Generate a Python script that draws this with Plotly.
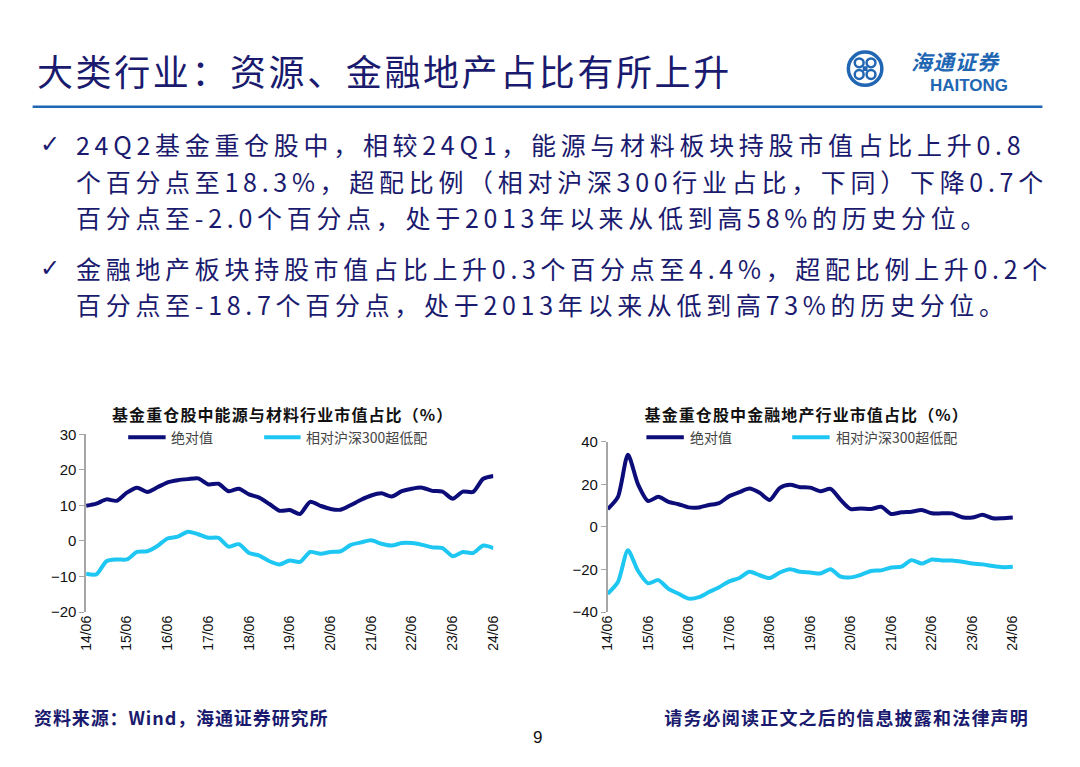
import json
import plotly.graph_objects as go

W, H = 1080, 767

# ---------------- data ----------------
quarters = [f"{y:02d}/{m:02d}" for y in range(14, 25) for m in (3, 6, 9, 12)][1:42]  # 14/06 .. 24/06
tick_labels = ["14/06", "15/06", "16/06", "17/06", "18/06", "19/06",
               "20/06", "21/06", "22/06", "23/06", "24/06"]

energy_abs = [9.9, 10.5, 11.7, 11.3, 13.6, 15.0, 13.8, 15.1, 16.5, 17.1,
              17.4, 17.6, 15.9, 16.1, 14.0, 14.7, 13.1, 12.2, 10.4, 8.5,
              8.7, 7.6, 11.0, 9.9, 9.0, 8.8, 10.1, 11.6, 12.8, 13.4,
              12.5, 14.0, 14.7, 15.0, 14.1, 13.9, 11.9, 13.9, 13.8, 17.5, 18.3]
energy_rel = [-9.2, -9.4, -5.7, -5.2, -5.2, -3.1, -2.9, -1.4, 0.7, 1.2,
              2.6, 1.9, 0.9, 0.9, -1.6, -0.9, -3.4, -4.1, -5.7, -6.6,
              -5.5, -5.9, -3.1, -3.6, -3.1, -2.9, -1.1, -0.4, 0.2, -0.8,
              -1.3, -0.6, -0.6, -1.1, -1.8, -2.0, -4.3, -3.1, -3.4, -1.3, -2.0]
fin_abs = [8.4, 14.0, 34.0, 20.0, 12.2, 14.2, 11.8, 10.7, 9.2, 9.2,
           10.3, 11.2, 14.5, 16.4, 18.1, 16.1, 12.7, 18.4, 19.8, 18.7,
           18.5, 16.8, 17.9, 12.7, 8.4, 8.7, 8.4, 9.5, 6.1, 6.9,
           7.2, 8.0, 6.4, 6.4, 6.4, 4.6, 4.4, 5.7, 4.1, 4.1, 4.4]
fin_rel = [-31.4, -26.0, -11.0, -20.7, -26.5, -25.0, -29.1, -31.4, -33.7, -33.0,
           -30.6, -28.3, -25.6, -24.0, -21.1, -22.7, -24.0, -21.4, -19.9, -21.1,
           -21.4, -21.9, -19.9, -23.4, -23.7, -22.5, -20.7, -20.4, -19.1, -18.7,
           -15.6, -17.2, -15.3, -15.8, -15.8, -16.4, -17.2, -17.6, -18.4, -18.9, -18.7]

series_names = ["绝对值", "相对沪深300超低配"]
chart_titles = ["基金重仓股中能源与材料行业市值占比（%）", "基金重仓股中金融地产行业市值占比（%）"]

# ---------------- styles ----------------
NAVY = "#0d0d7a"
CYAN = "#1ec6f2"
TXT = "#1a1a6e"
BLUE = "#2166b3"
AXC = "#a6a6a6"
CJK = "Noto Sans CJK SC"
ARIAL = "Liberation Sans, Arial"


def px(x):
    return x / W


def py(y):
    return 1 - y / H


x_idx = list(range(len(quarters)))
tick_idx = [quarters.index(t) for t in tick_labels]

panels = [
    dict(abs=energy_abs, rel=energy_rel, yr=[-20, 30], dt=10,
         xd=[px(79.3), px(492.7)], yd=[py(616.7), py(435)]),
    dict(abs=fin_abs, rel=fin_rel, yr=[-40, 40], dt=20,
         xd=[px(608.7), px(1020)], yd=[py(616.7), py(442.7)]),
]

fig = go.Figure()
layout = {}
for k, p in enumerate(panels):
    xa = "x" if k == 0 else "x2"
    ya = "y" if k == 0 else "y2"
    for vals, col in ((p["abs"], NAVY), (p["rel"], CYAN)):
        fig.add_trace(go.Scatter(x=x_idx, y=vals, xaxis=xa, yaxis=ya, mode="lines",
                                 line=dict(color=col, width=4, shape="spline", smoothing=0.7),
                                 showlegend=False, hoverinfo="skip"))
    xn = "xaxis" if k == 0 else "xaxis2"
    yn = "yaxis" if k == 0 else "yaxis2"
    layout[xn] = dict(domain=p["xd"], anchor=ya, range=[0, 40], tickmode="array",
                      tickvals=tick_idx, ticktext=tick_labels, tickangle=-90,
                      showline=False, ticks="", showgrid=False, zeroline=False,
                      tickfont=dict(family=ARIAL, size=14, color="#111111"))
    layout[yn] = dict(domain=p["yd"], anchor=xa, range=p["yr"], dtick=p["dt"],
                      showline=True, linecolor=AXC, linewidth=1.5, ticks="outside",
                      ticklen=5, tickcolor=AXC, showgrid=False, zeroline=False,
                      tickfont=dict(family=ARIAL, size=15, color="#111111"))
    # zero-line axis carrying the tick marks
    y0, y1 = p["yd"]
    lo, hi = p["yr"]
    zpos = y0 + (0 - lo) / (hi - lo) * (y1 - y0)
    zn = "xaxis3" if k == 0 else "xaxis4"
    layout[zn] = dict(overlaying=xa, anchor="free", position=zpos, range=[0, 40],
                      tickmode="array", tickvals=tick_idx, showticklabels=False,
                      showline=True, linecolor=AXC, linewidth=1.5, ticks="outside",
                      ticklen=5, tickcolor=AXC, showgrid=False, zeroline=False)

fig.update_layout(**layout)

shapes = []
ann = []
spacing = {}  # annotation index -> letter spacing (px)


def add_text(text, x, y, xanchor="left", size=14, color=TXT, family=CJK, ls=None):
    if ls:
        spacing[len(ann)] = ls
    ann.append(dict(text=text, x=px(x), y=py(y), xanchor=xanchor, yanchor="middle",
                    align=xanchor if xanchor != "center" else "center",
                    font=dict(family=family, size=size, color=color)))


# header
add_text("大类行业：资源、金融地产占比有所上升", 27, 62, size=36, ls=2.6)
shapes.append(dict(type="line", xref="paper", yref="paper", x0=px(25), x1=px(1050),
                   y0=py(100), y1=py(100), line=dict(color=BLUE, width=2.5)))

# logo
cx, cy, r = 870, 61, 17
shapes.append(dict(type="circle", xref="paper", yref="paper", x0=px(cx - r), x1=px(cx + r),
                   y0=py(cy + r), y1=py(cy - r), line=dict(color=BLUE, width=3.5)))
for dx, dy in ((-6, -6), (6, -6), (-6, 6), (6, 6)):
    rr = 4.5
    shapes.append(dict(type="circle", xref="paper", yref="paper", x0=px(cx + dx - rr),
                       x1=px(cx + dx + rr), y0=py(cy + dy + rr), y1=py(cy + dy - rr),
                       line=dict(color=BLUE, width=2.5)))
shapes.append(dict(type="rect", xref="paper", yref="paper", x0=px(cx - 2.5), x1=px(cx + 2.5),
                   y0=py(cy + 2.5), y1=py(cy - 2.5), fillcolor=BLUE, line=dict(width=0)))
add_text("<i><b>海通证券</b></i>", 962, 53, xanchor="center", size=21, color=BLUE, ls=1)
add_text("<b>HAITONG</b>", 975, 78, xanchor="center", size=17, color=BLUE, family=ARIAL)

# bullets
lines = [
    (138, True, "24Q2基金重仓股中，相较24Q1，能源与材料板块持股市值占比上升0.8"),
    (176, False, "个百分点至18.3%，超配比例（相对沪深300行业占比，下同）下降0.7个"),
    (213, False, "百分点至-2.0个百分点，处于2013年以来从低到高58%的历史分位。"),
    (265, True, "金融地产板块持股市值占比上升0.3个百分点至4.4%，超配比例上升0.2个"),
    (302, False, "百分点至-18.7个百分点，处于2013年以来从低到高73%的历史分位。"),
]
for yy, chk, t in lines:
    if chk:
        add_text("<b>✓</b>", 30, yy, size=24, family="DejaVu Sans")
    add_text(t, 67, yy, size=25, ls=4.7)

# chart titles and legends
title_cx = [279, 810]
leg = [((122, 160, 163), (260, 297, 300)), ((648, 686, 690), (796, 834, 838))]
for k in range(2):
    add_text("<b>" + chart_titles[k] + "</b>", title_cx[k], 414, xanchor="center",
             size=16, color="#111111", ls=1.1)
    for (x0, x1, xt), col, nm in zip(leg[k], (NAVY, CYAN), series_names):
        shapes.append(dict(type="line", xref="paper", yref="paper", x0=px(x0), x1=px(x1),
                           y0=py(438), y1=py(438), line=dict(color=col, width=4)))
        add_text(nm, xt, 438, size=14, color="#444444")

# footer
add_text("<b>资料来源：Wind，海通证券研究所</b>", 24, 724, size=18, ls=0.9)
add_text("<b>请务必阅读正文之后的信息披露和法律声明</b>", 1038, 724, xanchor="right", size=18, ls=1.2)
add_text("9", 537, 745, xanchor="center", size=17, color="#111111", family=ARIAL)

for a in ann:
    a["xref"] = "paper"
    a["yref"] = "paper"
    a["showarrow"] = False

fig.update_layout(width=W, height=H, margin=dict(l=0, r=0, t=0, b=0),
                  paper_bgcolor="white", plot_bgcolor="white",
                  shapes=shapes, annotations=ann, showlegend=False)

post = """
document.documentElement.style.margin = '0';
document.documentElement.style.padding = '0';
document.documentElement.style.overflow = 'hidden';
document.body.style.margin = '0';
document.body.style.padding = '0';
document.body.style.overflow = 'hidden';
var gd = document.getElementById('{plot_id}');
var sp = %s;
function applySpacing() {
  for (var k in sp) {
    var t = gd.querySelector('.annotation[data-index="' + k + '"] text');
    if (t) { t.style.letterSpacing = sp[k] + 'px'; }
  }
}
applySpacing();
if (gd.on) { gd.on('plotly_afterplot', applySpacing); }
""" % json.dumps(spacing)

fig.write_html("out.html", post_script=post, config={"displayModeBar": False})
